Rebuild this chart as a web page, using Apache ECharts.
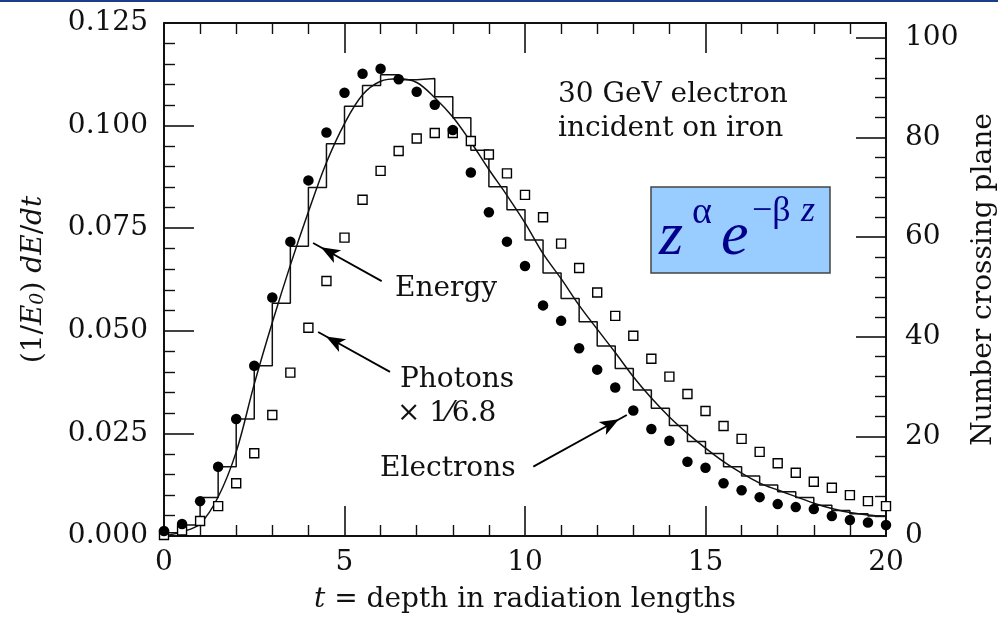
<!DOCTYPE html>
<html><head><meta charset="utf-8">
<script src="https://cdn.jsdelivr.net/npm/echarts@6/dist/echarts.min.js"></script>
<style>html,body{margin:0;padding:0;background:#fff}#c{width:998px;height:619px}</style>
</head><body><div id="c"></div>
<script>
// depth t in radiation lengths (bin edges / sample points)
const depth = [0,0.5,1,1.5,2,2.5,3,3.5,4,4.5,5,5.5,6,6.5,7,7.5,8,8.5,9,9.5,10,10.5,11,11.5,12,12.5,13,13.5,14,14.5,15,15.5,16,16.5,17,17.5,18,18.5,19,19.5,20];
// (1/E0) dE/dt histogram, one value per 0.5 bin starting at depth[i]
const energyHist = [0.0008,0.0027,0.0094,0.0169,0.0285,0.0415,0.0567,0.0706,0.0849,0.0956,0.1047,0.1098,0.1124,0.1112,0.1115,0.1070,0.1019,0.0940,0.0851,0.0795,0.0721,0.0641,0.0579,0.0522,0.0463,0.0408,0.0356,0.0311,0.0269,0.0230,0.0201,0.0169,0.0146,0.0124,0.0108,0.0094,0.0075,0.0062,0.0054,0.0049];
// smooth fit curve read at each depth
const energyFit = [0.0000,0.0010,0.0030,0.0095,0.0205,0.0370,0.0520,0.0660,0.0790,0.0910,0.1005,0.1075,0.1108,0.1114,0.1105,0.1068,0.1021,0.0960,0.0893,0.0830,0.0763,0.0688,0.0627,0.0562,0.0504,0.0447,0.0388,0.0336,0.0290,0.0250,0.0214,0.0181,0.0153,0.0129,0.0112,0.0096,0.0080,0.0067,0.0057,0.0051,0.0048];
// number crossing plane (right axis)
const electrons = [1.0,2.4,7.0,13.9,23.5,34.2,47.9,59.1,71.4,81.0,89.0,92.8,93.8,91.7,89.2,86.6,81.5,73.0,65.0,59.1,54.2,46.3,43.2,37.7,33.4,29.8,25.2,21.5,19.1,14.9,13.7,10.6,9.2,7.8,6.4,5.8,5.4,4.0,3.2,2.7,2.2];
const photons = [0.2,1.1,3.0,6.0,10.6,16.6,24.3,32.8,41.8,51.2,59.9,67.5,73.3,77.3,79.8,80.9,80.9,79.3,76.6,72.8,68.5,64.0,58.7,53.8,48.9,44.2,40.2,35.6,32.0,28.5,25.1,22.1,19.5,16.9,14.6,12.7,10.9,9.7,8.2,7.0,6.0];
// arrow annotations [from, to] in (t, left-axis value)
const arrows = [
  [[6.03,0.0621],[4.13,0.0714]],
  [[6.26,0.0400],[4.27,0.0497]],
  [[10.23,0.0169],[12.82,0.0295]]
];

const FONT = 'DejaVu Serif';
const INK = '#111';
const histData = [[depth[0],0]].concat(energyHist.map((v,i)=>[depth[i],v])).concat([[depth[40],energyHist[39]]]);
const fitData = energyFit.map((v,i)=>[depth[i],v]);
const eData = electrons.map((v,i)=>[depth[i],v]);
const pData = photons.map((v,i)=>[depth[i],v]);

const tickCommon = {show:true, inside:true, length:30, lineStyle:{color:INK,width:1.6}};
const minorCommon = {show:true, splitNumber:5, length:11, lineStyle:{color:INK,width:1.4}};
const lineCommon = {show:true, onZero:false, lineStyle:{color:INK,width:2}};
const lblCommon = {color:INK, fontFamily:FONT, fontSize:28};

const chart = echarts.init(document.getElementById('c'), null, {renderer:'canvas'});
chart.setOption({
  animation:false,
  backgroundColor:'#fff',
  grid:{left:164, right:112, top:23, bottom:83, containLabel:false, outerBoundsMode:'none'},
  xAxis:[
    {type:'value', position:'bottom', min:0, max:20, interval:5,
     axisLine:lineCommon, axisTick:tickCommon, minorTick:minorCommon,
     splitLine:{show:false}, minorSplitLine:{show:false},
     axisLabel:Object.assign({margin:13}, lblCommon),
     name:'{i|t} = depth in radiation lengths', nameLocation:'middle', nameGap:50,
     nameTextStyle:{color:INK, fontFamily:FONT, fontSize:28,
       rich:{i:{fontStyle:'italic', fontFamily:FONT, fontSize:28, color:INK}}}},
    {type:'value', position:'top', min:0, max:20, interval:5,
     axisLine:lineCommon, axisTick:tickCommon, minorTick:minorCommon,
     splitLine:{show:false}, axisLabel:{show:false}}
  ],
  yAxis:[
    {type:'value', position:'left', min:0, max:0.125, interval:0.025,
     axisLine:lineCommon, axisTick:tickCommon, minorTick:minorCommon,
     splitLine:{show:false}, minorSplitLine:{show:false},
     axisLabel:Object.assign({margin:16, formatter:v=>v.toFixed(3)}, lblCommon),
     name:'(1/{i|E}{s|0}) {i|dE}/{i|dt}', nameLocation:'middle', nameGap:116,
     nameTextStyle:{color:INK, fontFamily:FONT, fontSize:28,
       rich:{i:{fontStyle:'italic', fontFamily:FONT, fontSize:28, color:INK},
             s:{fontStyle:'italic', fontFamily:FONT, fontSize:19, color:INK, verticalAlign:'bottom'}}}},
    {type:'value', position:'right', min:0, max:103, interval:20,
     axisLine:lineCommon, axisTick:tickCommon, minorTick:minorCommon,
     splitLine:{show:false}, minorSplitLine:{show:false},
     axisLabel:Object.assign({margin:19, formatter:v=>v>100?'':String(v)}, lblCommon),
     name:'Number crossing plane', nameLocation:'middle', nameGap:72,
     nameTextStyle:{color:INK, fontFamily:FONT, fontSize:28}}
  ],
  series:[
    {type:'line', name:'Energy histogram', xAxisIndex:0, yAxisIndex:0, data:histData, step:'end',
     showSymbol:false, symbol:'none', lineStyle:{color:INK,width:1.5}, z:2, silent:true,
     markLine:{silent:true, symbol:['none','arrow'], label:{show:false},
       lineStyle:{color:'#000', width:1.8, type:'solid'}, emphasis:{disabled:true},
       data:arrows.map(a=>[{coord:a[0], symbol:'none'},{coord:a[1], symbol:'arrow', symbolSize:[11,19], symbolOffset:[0,9]}])}},
    {type:'line', name:'Energy fit', xAxisIndex:0, yAxisIndex:0, data:fitData, smooth:0.35,
     showSymbol:false, symbol:'none', lineStyle:{color:INK,width:1.5}, z:2, silent:true},
    {type:'scatter', name:'Photons', xAxisIndex:0, yAxisIndex:1, data:pData, symbol:'rect', symbolSize:9,
     itemStyle:{color:'#fff', borderColor:'#000', borderWidth:1.4, opacity:1}, z:3, silent:true},
    {type:'scatter', name:'Electrons', xAxisIndex:0, yAxisIndex:1, data:eData, symbol:'circle', symbolSize:10.5,
     itemStyle:{color:'#000', opacity:1}, z:4, silent:true}
  ],
  graphic:[
    {type:'rect', left:0, top:0, shape:{width:998,height:2}, style:{fill:'#1d3c8c'}, silent:true},
    {type:'text', x:558, y:95, style:{text:'30 GeV electron', font:'28px "DejaVu Serif"', fill:INK, verticalAlign:'middle'}},
    {type:'text', x:558, y:129, style:{text:'incident on iron', font:'28px "DejaVu Serif"', fill:INK, verticalAlign:'middle'}},
    {type:'text', x:395, y:289, style:{text:'Energy', font:'28px "DejaVu Serif"', fill:INK, verticalAlign:'middle'}},
    {type:'text', x:400, y:380, style:{text:'Photons', font:'28px "DejaVu Serif"', fill:INK, verticalAlign:'middle'}},
    {type:'text', x:397, y:414, style:{text:'\u00d7 1\u20446.8', font:'28px "DejaVu Serif"', fill:INK, verticalAlign:'middle'}},
    {type:'text', x:380, y:469, style:{text:'Electrons', font:'28px "DejaVu Serif"', fill:INK, verticalAlign:'middle'}},
    {type:'rect', shape:{x:651, y:187, width:179, height:86}, style:{fill:'#99ccff', stroke:'#444', lineWidth:1.5}},
    {type:'text', x:659, y:238, style:{text:'z', font:'italic 62px "Liberation Serif"', fill:'#00008b', verticalAlign:'middle'}},
    {type:'text', x:692, y:213, style:{text:'\u03b1', font:'38px "Liberation Serif"', fill:'#00008b', verticalAlign:'middle'}},
    {type:'text', x:721, y:238, style:{text:'e', font:'italic 62px "Liberation Serif"', fill:'#00008b', verticalAlign:'middle'}},
    {type:'text', x:752, y:212, style:{text:'\u2212\u03b2', font:'36px "Liberation Serif"', fill:'#00008b', verticalAlign:'middle'}},
    {type:'text', x:801, y:212, style:{text:'z', font:'italic 36px "Liberation Serif"', fill:'#00008b', verticalAlign:'middle'}}
  ]
});
</script></body></html>
